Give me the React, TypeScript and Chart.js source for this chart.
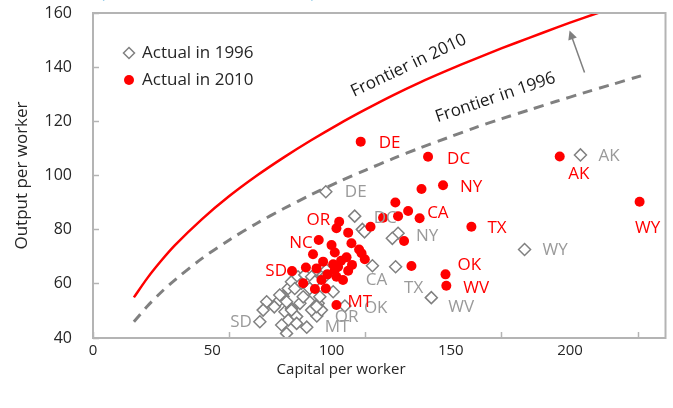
import React, { useEffect, useRef } from 'react';
import { Chart, registerables } from 'chart.js';

Chart.register(...registerables);

// ---------------- data ----------------
const xTickValues = [0, 50, 100, 150, 200];
const yTickValues = [40, 60, 80, 100, 120, 140, 160];

const frontierCapital = [15, 20, 25, 30, 40, 50, 60, 70, 80, 90, 100, 110, 120, 130, 140, 150, 160, 170, 180, 190, 201];
const frontierOutput1996 = [46, 51.8, 56.9, 61.4, 69.4, 76.2, 82.3, 87.8, 92.9, 97.6, 102, 106.2, 110.2, 113.9, 117.6, 121, 124.2, 127.4, 130.5, 133.5, 136.8];
const frontierOutput2010 = [55, 62.2, 68.5, 74.2, 83.9, 92.4, 99.9, 106.7, 113, 118.9, 124.4, 129.6, 134.4, 138.8, 143, 147, 150.8, 154.6, 158.2, 161.6, 165];

// labelled states, 1996
const states1996 = ['DE', 'DC', 'NY', 'CA', 'TX', 'OK', 'WV', 'AK', 'WY', 'OR', 'MT', 'SD'];
const capital1996Labeled = [85.4, 96, 111.9, 102.5, 111, 92.4, 124.1, 178.8, 158.3, 82.1, 78.4, 61.2];
const output1996Labeled = [94, 85, 78.7, 66.7, 66.3, 51.8, 54.9, 107.6, 72.7, 48.1, 44, 46];
// other states, 1996
const capital1996Other = [98.8, 99.6, 109.8, 63.7, 62.4, 67.9, 69.7, 71.6, 72.8, 74, 75.2, 76.5, 77.7, 80.2, 81.4, 84.4, 85.6, 70.4, 72.8, 71.6, 74.7, 69.2, 71, 74.7, 80.2, 82.6, 83.8, 88.1, 81.4, 83.2, 82, 68.5, 71, 72.8, 75.9, 77.1, 79.5, 85, 66.5];
const output1996Other = [80.1, 79.2, 76.8, 53.4, 50.3, 53.4, 55.3, 58.3, 60.8, 58.3, 62.6, 60.2, 63.3, 62.6, 60.8, 63.3, 65.1, 49.7, 50.9, 46.6, 47.9, 44.8, 41.7, 45.4, 50.3, 52.8, 50.3, 57.1, 55.9, 55.2, 51.6, 55.9, 53.4, 50.3, 52.8, 55.2, 58.3, 62.6, 51.5];

// labelled states, 2010
const states2010 = ['DE', 'DC', 'NY', 'CA', 'TX', 'OK', 'WV', 'AK', 'WY', 'OR', 'NC', 'SD', 'MT'];
const capital2010Labeled = [98.2, 122.9, 128.4, 115.6, 138.8, 129.3, 129.6, 171.2, 200.5, 90.3, 82.8, 73, 89.3];
const output2010Labeled = [112.5, 106.9, 96.4, 86.9, 81.1, 63.5, 59.3, 107, 90.3, 82.9, 76.2, 64.7, 52.2];
// other states, 2010
const capital2010Other = [89.3, 93.6, 101.8, 106.4, 110.9, 111.9, 120.5, 119.8, 114.1, 116.8, 87.5, 88.7, 94.8, 97.6, 98.5, 99.7, 93, 80.7, 88.1, 89.9, 88.7, 89.3, 91.7, 93.6, 84.4, 82, 78.1, 77.1, 83.8, 81.4, 85.4, 86, 91, 95];
const output2010Other = [80.5, 78.9, 81.1, 84.4, 90, 85, 95, 84.2, 75.8, 66.6, 74.3, 71.6, 75, 72.7, 71.3, 69.1, 69.8, 70.9, 67.2, 66.3, 65.1, 62.6, 61.4, 64.8, 68.2, 65.7, 66, 60.2, 61.4, 58.1, 58.3, 63.5, 68.5, 67];

// ---------------- styling ----------------
const FONT = '"Open Sans", "DejaVu Sans", sans-serif';
const RED = '#ff0000';
const GREY_MARK = '#808080';
const GREY_TEXT = '#9a9a9a';
const AXIS_GREY = '#b4b4b4';
const TEXT = '#262626';

// [dx, dy, align] relative to the marker centre
const place1996: Record<string, [number, number, CanvasTextAlign]> = {
  DE: [19, 0, 'left'], DC: [19, 2, 'left'], NY: [18, 3, 'left'], CA: [4, 14, 'center'],
  TX: [18, 21, 'center'], OK: [19, 2, 'left'], WV: [17, 10, 'left'], AK: [18, 1, 'left'],
  WY: [18, 1, 'left'], OR: [18, 1, 'left'], MT: [18, 0, 'left'], SD: [-8, 0, 'right'],
};
const place2010: Record<string, [number, number, CanvasTextAlign]> = {
  DE: [18, 2, 'left'], DC: [19, 2, 'left'], NY: [17, 2, 'left'], CA: [19, 2, 'left'],
  TX: [16, 1, 'left'], OK: [12, -9, 'left'], WV: [17, 2, 'left'], AK: [19, 18, 'center'],
  WY: [8, 26, 'center'], OR: [-9, -2, 'right'], NC: [-6, 3, 'right'], SD: [-5, 0, 'right'],
  MT: [11, -3, 'left'],
};

const pts = (xs: number[], ys: number[]) => xs.map((v, i) => ({ x: v, y: ys[i] }));

const decorations = {
  id: 'decorations',
  afterDatasetsDraw(chart: any) {
    const { ctx, chartArea: ca, scales } = chart;
    const x = scales.x;
    const y = scales.y;
    const xl = scales.xLabels;
    ctx.save();

    // plot frame
    ctx.strokeStyle = AXIS_GREY;
    ctx.lineWidth = 2;
    ctx.strokeRect(ca.left, ca.top, ca.right - ca.left, ca.bottom - ca.top);

    // point labels
    ctx.font = `17px ${FONT}`;
    ctx.textBaseline = 'middle';
    const drawLabels = (names: string[], xs: number[], ys: number[], place: any, color: string) => {
      ctx.fillStyle = color;
      names.forEach((n, i) => {
        const [dx, dy, al] = place[n];
        ctx.textAlign = al;
        ctx.fillText(n, x.getPixelForValue(xs[i]) + dx, y.getPixelForValue(ys[i]) + dy);
      });
    };
    drawLabels(states1996, capital1996Labeled, output1996Labeled, place1996, GREY_TEXT);
    drawLabels(states2010, capital2010Labeled, output2010Labeled, place2010, RED);

    // frontier labels along the curves
    const along = (ys: number[], i: number, text: string, shift: number, off: number) => {
      const x1 = x.getPixelForValue(frontierCapital[i]);
      const y1 = y.getPixelForValue(ys[i]);
      const x2 = x.getPixelForValue(frontierCapital[i + 1]);
      const y2 = y.getPixelForValue(ys[i + 1]);
      const a = Math.atan2(y2 - y1, x2 - x1);
      ctx.save();
      ctx.translate((x1 + x2) / 2, (y1 + y2) / 2);
      ctx.rotate(a);
      ctx.fillStyle = '#1a1a1a';
      ctx.textAlign = 'center';
      ctx.textBaseline = 'middle';
      ctx.fillText(text, shift, -off);
      ctx.restore();
    };
    along(frontierOutput2010, 11, 'Frontier in 2010', 12, 20);
    along(frontierOutput1996, 14, 'Frontier in 1996', 15, 22);

    // arrow from 1996 frontier towards 2010 frontier
    const ax0 = x.getPixelForValue(180.3), ay0 = y.getPixelForValue(138);
    const ax1 = x.getPixelForValue(174.8), ay1 = y.getPixelForValue(153.5);
    const ang = Math.atan2(ay1 - ay0, ax1 - ax0);
    ctx.strokeStyle = '#7f7f7f';
    ctx.fillStyle = '#7f7f7f';
    ctx.lineWidth = 1.5;
    ctx.beginPath();
    ctx.moveTo(ax0, ay0);
    ctx.lineTo(ax1 - 6 * Math.cos(ang), ay1 - 6 * Math.sin(ang));
    ctx.stroke();
    ctx.beginPath();
    ctx.moveTo(ax1, ay1);
    ctx.lineTo(ax1 - 9 * Math.cos(ang) + 4.5 * Math.sin(ang), ay1 - 9 * Math.sin(ang) - 4.5 * Math.cos(ang));
    ctx.lineTo(ax1 - 9 * Math.cos(ang) - 4.5 * Math.sin(ang), ay1 - 9 * Math.sin(ang) + 4.5 * Math.cos(ang));
    ctx.closePath();
    ctx.fill();

    // legend
    const lx = ca.left + 36;
    const ly1 = ca.top + 40;
    const ly2 = ca.top + 67;
    ctx.strokeStyle = GREY_MARK;
    ctx.fillStyle = '#ffffff';
    ctx.lineWidth = 1.5;
    ctx.beginPath();
    ctx.moveTo(lx, ly1 - 5.5);
    ctx.lineTo(lx + 5.5, ly1);
    ctx.lineTo(lx, ly1 + 5.5);
    ctx.lineTo(lx - 5.5, ly1);
    ctx.closePath();
    ctx.fill();
    ctx.stroke();
    ctx.fillStyle = RED;
    ctx.beginPath();
    ctx.arc(lx, ly2, 5, 0, Math.PI * 2);
    ctx.fill();
    ctx.fillStyle = TEXT;
    ctx.textAlign = 'left';
    ctx.textBaseline = 'middle';
    ctx.font = `17px ${FONT}`;
    ctx.fillText('Actual in 1996', lx + 13, ly1);
    ctx.fillText('Actual in 2010', lx + 13, ly2);

    // x axis title
    ctx.font = `15px ${FONT}`;
    ctx.textAlign = 'center';
    ctx.fillStyle = TEXT;
    ctx.fillText('Capital per worker', xl.getPixelForValue(104), 370);

    // clipped subtitle at the very top
    ctx.font = `17px ${FONT}`;
    ctx.textAlign = 'left';
    ctx.textBaseline = 'alphabetic';
    ctx.fillStyle = '#4aa8d8';
    ctx.fillText('(thousands of 2010 dollars)', 100, -2);
    ctx.restore();
  },
};

export default function App() {
  const ref = useRef<HTMLCanvasElement | null>(null);
  useEffect(() => {
    if (!ref.current) return;
    const chart = new Chart(ref.current, {
      type: 'scatter',
      data: {
        datasets: [
          {
            label: 'Actual in 2010',
            data: [...pts(capital2010Labeled, output2010Labeled), ...pts(capital2010Other, output2010Other)],
            backgroundColor: RED,
            borderColor: RED,
            pointRadius: 5,
            pointStyle: 'circle',
            borderWidth: 0,
            order: 0,
          },
          {
            label: 'Actual in 1996',
            data: [...pts(capital1996Labeled, output1996Labeled), ...pts(capital1996Other, output1996Other)],
            backgroundColor: '#ffffff',
            borderColor: GREY_MARK,
            pointStyle: 'rectRot',
            pointRadius: 6,
            borderWidth: 1.5,
            order: 1,
          },
          {
            label: 'Frontier in 2010',
            data: pts(frontierCapital, frontierOutput2010),
            showLine: true,
            borderColor: RED,
            borderWidth: 2.5,
            pointRadius: 0,
            tension: 0.3,
            order: 2,
          },
          {
            label: 'Frontier in 1996',
            data: pts(frontierCapital, frontierOutput1996),
            showLine: true,
            borderColor: GREY_MARK,
            borderWidth: 3,
            borderDash: [10, 7],
            pointRadius: 0,
            tension: 0.3,
            order: 3,
          },
        ],
      },
      options: {
        animation: false,
        responsive: false,
        devicePixelRatio: 1,
        layout: { padding: { left: 0, top: 13, right: 7, bottom: 0 } },
        plugins: { legend: { display: false }, tooltip: { enabled: false } },
        scales: {
          x: {
            type: 'linear',
            position: 'bottom',
            min: 0,
            max: 210,
            weight: 0,
            afterBuildTicks: (s: any) => { s.ticks = xTickValues.map((v) => ({ value: v })); },
            afterFit: (s: any) => { s.height = 0; s.paddingLeft = 0; s.paddingRight = 0; },
            ticks: { display: false },
            grid: { display: true, drawOnChartArea: false, drawTicks: true, tickLength: -6, tickColor: AXIS_GREY, tickWidth: 1.5 },
            border: { display: false },
          },
          xLabels: {
            type: 'linear',
            position: 'bottom',
            min: 0,
            max: 240,
            weight: 1,
            afterBuildTicks: (s: any) => { s.ticks = xTickValues.map((v) => ({ value: v })); },
            afterFit: (s: any) => { s.height = 70; s.paddingLeft = 0; s.paddingRight = 0; },
            ticks: { color: TEXT, font: { family: FONT, size: 15 }, padding: 4, maxRotation: 0 },
            grid: { display: false, drawTicks: false },
            border: { display: false },
          },
          y: {
            type: 'linear',
            position: 'left',
            min: 40,
            max: 160,
            afterBuildTicks: (s: any) => { s.ticks = yTickValues.map((v) => ({ value: v })); },
            afterFit: (s: any) => { s.width = 93; s.paddingTop = 0; s.paddingBottom = 0; },
            ticks: { color: TEXT, font: { family: FONT, size: 16 }, padding: 27 },
            grid: { display: true, drawOnChartArea: false, drawTicks: true, tickLength: -6, tickColor: AXIS_GREY, tickWidth: 1.5 },
            border: { display: false },
            title: { display: true, text: 'Output per worker', color: TEXT, font: { family: FONT, size: 17 }, padding: { top: 12, bottom: 0 } },
          },
        },
      },
      plugins: [decorations],
    } as any);
    return () => chart.destroy();
  }, []);
  return (
    <div style={{ position: 'fixed', left: 0, top: 0, width: 673, height: 408, background: '#fff' }}>
      <canvas ref={ref} width={673} height={408} style={{ width: 673, height: 408 }} />
    </div>
  );
}
